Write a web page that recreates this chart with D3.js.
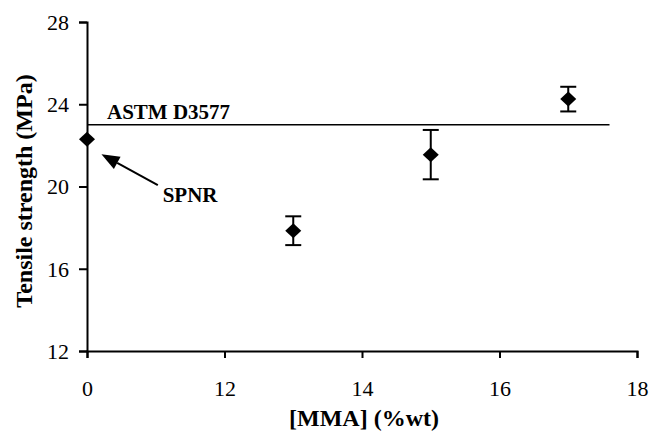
<!DOCTYPE html>
<html>
<head>
<meta charset="utf-8">
<script src="https://cdn.jsdelivr.net/npm/d3@7"></script>
<style>
  body { margin: 0; background: #fff; }
  svg { display: block; font-family: "Liberation Serif", "Times New Roman", serif; }
</style>
</head>
<body>
<svg id="chart" width="650" height="433"></svg>
<script>
// ===== DADOS =====
const mmaLevels = [0, 13, 15, 17];            // 0 = SPNR (sem MMA)
const tensileMeans = [22.3, 17.85, 21.55, 24.25];
const tensileErrors = [0, 0.7, 1.2, 0.6];
const xTickValues = [0, 12, 14, 16, 18];
const yTickValues = [12, 16, 20, 24, 28];
const astmLimit = 23;
const astmEnd = 17.6;

// eixo quebrado: o 0 fica onde estaria o 10
const breakAt = 10;
const toAxis = v => (v === 0 ? breakAt : v);

const svg = d3.select("#chart");
const margin = { top: 22, right: 13, bottom: 82, left: 87 };
const width = 650 - margin.left - margin.right;
const height = 433 - margin.top - margin.bottom;

const x = d3.scaleLinear().domain([breakAt, 18]).range([margin.left, margin.left + width]);
const y = d3.scaleLinear().domain([12, 28]).range([margin.top + height, margin.top]);

// ===== EIXOS =====
const xAxis = svg.append("g")
  .attr("transform", `translate(0,${y(12)})`)
  .call(d3.axisBottom(x)
    .tickValues(xTickValues.map(toAxis))
    .tickFormat((d, i) => xTickValues[i])
    .tickSizeOuter(0).tickSize(7).tickPadding(22));

const yAxis = svg.append("g")
  .attr("transform", `translate(${x(breakAt)},0)`)
  .call(d3.axisLeft(y).tickValues(yTickValues).tickSizeOuter(0).tickSize(8).tickPadding(10));

[xAxis, yAxis].forEach(g => {
  g.selectAll("path, line").attr("stroke", "#000").attr("stroke-width", 2);
  g.selectAll("text").attr("font-size", 22).attr("font-family", "Liberation Serif").attr("fill", "#000");
});
yAxis.selectAll("text").attr("dy", "0.33em");

// títulos
svg.append("text")
  .attr("x", 364).attr("y", 426)
  .attr("text-anchor", "middle").attr("font-weight", "bold").attr("font-size", 24)
  .text("[MMA] (%wt)");

svg.append("text")
  .attr("transform", "translate(32,191)rotate(-90)")
  .attr("text-anchor", "middle").attr("font-weight", "bold").attr("font-size", 24)
  .text("Tensile strength (MPa)");

// ===== LINHA ASTM =====
svg.append("line")
  .attr("x1", x(breakAt)).attr("x2", x(astmEnd))
  .attr("y1", y(astmLimit)).attr("y2", y(astmLimit))
  .attr("stroke", "#000").attr("stroke-width", 1.5);

svg.append("text")
  .attr("x", x(breakAt) + 20).attr("y", y(astmLimit) - 6)
  .attr("font-weight", "bold").attr("font-size", 21)
  .text("ASTM D3577");

// ===== BARRAS DE ERRO =====
const points = mmaLevels.map((m, i) => ({ m, v: tensileMeans[i], e: tensileErrors[i] }));
const withErr = points.filter(d => d.e > 0);

const eb = svg.append("g").attr("stroke", "#000").attr("stroke-width", 2);
eb.selectAll(".stem").data(withErr).join("line")
  .attr("x1", d => x(toAxis(d.m))).attr("x2", d => x(toAxis(d.m)))
  .attr("y1", d => y(d.v - d.e)).attr("y2", d => y(d.v + d.e));
eb.selectAll(".capT").data(withErr).join("line")
  .attr("x1", d => x(toAxis(d.m)) - 8).attr("x2", d => x(toAxis(d.m)) + 8)
  .attr("y1", d => y(d.v + d.e)).attr("y2", d => y(d.v + d.e));
eb.selectAll(".capB").data(withErr).join("line")
  .attr("x1", d => x(toAxis(d.m)) - 8).attr("x2", d => x(toAxis(d.m)) + 8)
  .attr("y1", d => y(d.v - d.e)).attr("y2", d => y(d.v - d.e));

// ===== LOSANGOS =====
const dw = 8, dh = 7.5;
svg.selectAll(".pt").data(points).join("path")
  .attr("transform", d => `translate(${x(toAxis(d.m))},${y(d.v)})`)
  .attr("d", `M0,${-dh}L${dw},0L0,${dh}L${-dw},0Z`)
  .attr("fill", "#000");

// ===== ANOTAÇÃO SPNR =====
const tip = [x(10.21), y(21.57)];
const tail = [x(11.03), y(20.07)];
const ang = Math.atan2(tail[1] - tip[1], tail[0] - tip[0]);
const hl = 18, hw = 7;
const base = [tip[0] + hl * Math.cos(ang), tip[1] + hl * Math.sin(ang)];
svg.append("line")
  .attr("x1", base[0]).attr("y1", base[1]).attr("x2", tail[0]).attr("y2", tail[1])
  .attr("stroke", "#000").attr("stroke-width", 2);
svg.append("path")
  .attr("d", `M${tip[0]},${tip[1]}L${base[0] - hw * Math.sin(ang)},${base[1] + hw * Math.cos(ang)}L${base[0] + hw * Math.sin(ang)},${base[1] - hw * Math.cos(ang)}Z`)
  .attr("fill", "#000");

svg.append("text")
  .attr("x", x(11.1)).attr("y", y(19.25))
  .attr("font-weight", "bold").attr("font-size", 21)
  .text("SPNR");
</script>
</body>
</html>
